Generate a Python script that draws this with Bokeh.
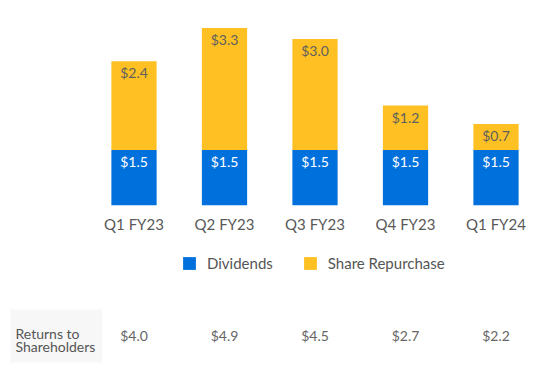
from bokeh.plotting import figure
from bokeh.models import (Range1d, Legend, LegendItem, FixedTicker,
                          BoxAnnotation, Label, ColumnDataSource)
from bokeh.layouts import column
from bokeh.embed import file_html
from bokeh.resources import INLINE
from bokeh.core.properties import value

# ---- data ----
quarters = ["Q1 FY23", "Q2 FY23", "Q3 FY23", "Q4 FY23", "Q1 FY24"]
dividends = [1.5, 1.5, 1.5, 1.5, 1.5]
repurchase = [2.4, 3.3, 3.0, 1.2, 0.7]
totals = [4.0, 4.9, 4.5, 2.7, 2.2]
series_names = ["Dividends", "Share Repurchase"]
table_header = ["Returns to", "Shareholders"]

# ---- style ----
BLUE = "#0071DC"
YELLOW = "#FEC022"
FONT = "Lato"
W = 556
A_H = 235
B_H = 129
FRAME_H = 205
FIRST_PX = 133.5
STEP = 90.5
PX_PER_UNIT = 37.0

fmt = lambda v: f"${v:.1f}"
idx = list(range(len(quarters)))

src = ColumnDataSource(dict(
    i=idx,
    div=dividends,
    top=[d + r for d, r in zip(dividends, repurchase)],
    div_lab=[fmt(v) for v in dividends],
    rep_lab=[fmt(v) for v in repurchase],
))

xr = Range1d(-FIRST_PX / STEP, (W - FIRST_PX) / STEP)

p = figure(width=W, height=A_H, x_range=xr,
           y_range=Range1d(0, FRAME_H / PX_PER_UNIT),
           y_axis_location=None,
           output_backend="svg", toolbar_location=None,
           min_border_left=0, min_border_right=0, min_border_top=0,
           min_border_bottom=A_H - FRAME_H)
p.outline_line_color = None
p.grid.visible = False

p.vbar(x="i", bottom=0, top="div", width=0.5, source=src,
       fill_color=BLUE, line_color=None)
p.vbar(x="i", bottom="div", top="top", width=0.5, source=src,
       fill_color=YELLOW, line_color=None)

p.text(x="i", y="div", text="div_lab", source=src, y_offset=3,
       text_align="center", text_baseline="top", text_color="white",
       text_font=value(FONT), text_font_size="14px")
p.text(x="i", y="top", text="rep_lab", source=src, y_offset=3,
       text_align="center", text_baseline="top", text_color="#5f5f5f",
       text_font=value(FONT), text_font_size="14px")

ax = p.xaxis[0]
ax.ticker = FixedTicker(ticks=idx)
ax.major_label_overrides = {i: q for i, q in zip(idx, quarters)}
ax.axis_line_color = None
ax.major_tick_line_color = None
ax.minor_tick_line_color = None
ax.major_tick_out = 0
ax.major_label_standoff = 9
ax.major_label_text_font = FONT
ax.major_label_text_font_size = "15px"
ax.major_label_text_color = "#595959"

# ---- legend + table figure ----
q = figure(width=W, height=B_H, x_range=xr, y_range=Range1d(0, B_H),
           x_axis_location=None, y_axis_location=None,
           output_backend="svg", toolbar_location=None,
           min_border_left=0, min_border_right=0, min_border_top=0,
           min_border_bottom=0)
q.outline_line_color = None
q.grid.visible = False

# legend swatches (renderers hidden; legend only)
lb = q.vbar(x="i", bottom=0, top="div", width=0.5, source=src,
            fill_color=BLUE, line_color=None, visible=False)
ly = q.vbar(x="i", bottom="div", top="top", width=0.5, source=src,
            fill_color=YELLOW, line_color=None, visible=False)
legend = Legend(items=[LegendItem(label=series_names[0], renderers=[lb]),
                       LegendItem(label=series_names[1], renderers=[ly])],
                location=(181, 92), orientation="horizontal",
                glyph_width=16, glyph_height=16, label_height=16,
                label_standoff=10, spacing=29, padding=0, margin=0,
                border_line_color=None, background_fill_alpha=0,
                label_text_font=FONT, label_text_font_size="15px",
                label_text_color="#555555", click_policy="none")
q.add_layout(legend)

box = BoxAnnotation(left=10, right=102, bottom=2, top=55,
                    left_units="screen", right_units="screen",
                    fill_color="#f7f7f7", fill_alpha=1, line_color=None,
                    level="underlay")
q.add_layout(box)

for txt, yy in zip(table_header, [31, 18]):
    q.add_layout(Label(x=15, y=yy, x_units="screen", text=txt,
                       text_baseline="alphabetic", text_align="left",
                       text_font=FONT, text_font_size="14px",
                       text_color="#555555"))

tsrc = ColumnDataSource(dict(i=idx, y=[29.5] * len(totals),
                             lab=[fmt(v) for v in totals]))
q.text(x="i", y="y", text="lab", source=tsrc, text_align="center",
       text_baseline="middle", text_color="#666666",
       text_font=value(FONT), text_font_size="14px")

layout = column(p, q, spacing=0)
open("out.html", "w").write(file_html(layout, INLINE))
